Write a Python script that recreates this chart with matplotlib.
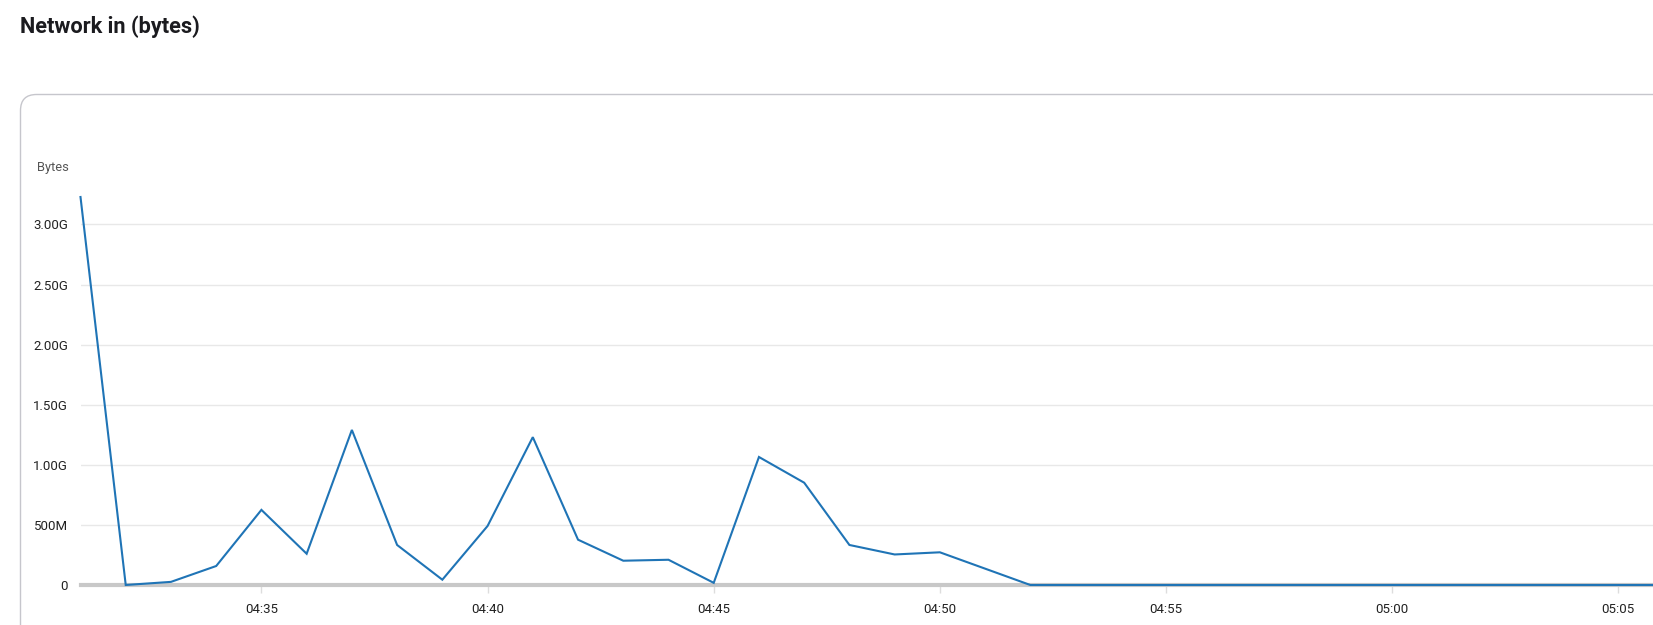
import matplotlib
matplotlib.use("Agg")
import matplotlib.pyplot as plt
import matplotlib.dates as mdates
import matplotlib.transforms as mtransforms
from matplotlib.patches import FancyBboxPatch
from matplotlib.ticker import FuncFormatter, MultipleLocator
import pandas as pd

plt.rcParams['font.family'] = ['Roboto', 'DejaVu Sans']

# ---- data ----
times = ["04:31", "04:32", "04:33", "04:34", "04:35", "04:36", "04:37", "04:38",
         "04:39", "04:40", "04:41", "04:42", "04:43", "04:44", "04:45", "04:46",
         "04:47", "04:48", "04:49", "04:50", "04:52", "04:53", "04:54", "04:55",
         "04:56", "04:57", "04:58", "04:59", "05:00", "05:01", "05:02", "05:03",
         "05:04", "05:05", "05:06"]
bytes_in = [3.228e9, 0.0, 0.026e9, 0.158e9, 0.625e9, 0.260e9, 1.29e9, 0.333e9,
            0.044e9, 0.491e9, 1.23e9, 0.377e9, 0.202e9, 0.210e9, 0.018e9, 1.065e9,
            0.851e9, 0.333e9, 0.254e9, 0.272e9, 0.0, 0.0, 0.0, 0.0,
            0.0, 0.0, 0.0, 0.0, 0.0, 0.0, 0.0, 0.0,
            0.0, 0.0, 0.0]
title = "Network in (bytes)"
y_unit = "Bytes"
x_start, x_end = "04:31", "05:05:46"

t = pd.to_datetime(["2024-01-01 " + s for s in times])
W, H = 1653, 625
fig = plt.figure(figsize=(W / 100, H / 100), dpi=100)

# card outline
card = FancyBboxPatch((20.5, -60), 1700, 625 - 94 + 60 - 0.5,
                      boxstyle="round,pad=0,rounding_size=16",
                      transform=mtransforms.IdentityTransform(),
                      fill=False, ec="#c6c6cc", lw=1.0)
fig.add_artist(card)

fig.text(20 / W, 1 - 27 / H, title, fontsize=15.7, fontweight="bold",
         color="#1b1b1f", ha="left", va="center")
fig.text(37 / W, 1 - 168 / H, y_unit, fontsize=9.3, color="#555555",
         ha="left", va="center")

ax_left = 80.5 / W
ax_bottom = (H - 585) / H
ymax = 3.4e9
ax_h = (ymax / 0.5e9 * 60.1) / H
ax = fig.add_axes([ax_left, ax_bottom, 1 - ax_left, ax_h])

ax.plot(t, bytes_in, color="#1f74b6", lw=1.5, clip_on=False, zorder=3,
        solid_joinstyle="miter")

ax.set_xlim(pd.Timestamp("2024-01-01 " + x_start), pd.Timestamp("2024-01-01 " + x_end))
ax.set_ylim(0, ymax)

for s in ["top", "right", "left"]:
    ax.spines[s].set_visible(False)
ax.spines["bottom"].set_color("#c8c8c8")
ax.spines["bottom"].set_linewidth(3)
ax.spines["bottom"].set_zorder(2)

ax.yaxis.set_major_locator(MultipleLocator(0.5e9))

def yfmt(v, pos):
    if v == 0:
        return "0"
    if v < 1e9:
        return f"{v / 1e6:.0f}M"
    return f"{v / 1e9:.2f}G"

ax.yaxis.set_major_formatter(FuncFormatter(yfmt))
ax.grid(axis="y", color="#e8e8e8", lw=1)
ax.set_axisbelow(True)
ax.tick_params(axis="y", length=0, pad=9, labelsize=9.5, labelcolor="#222222")

ax.xaxis.set_major_locator(mdates.MinuteLocator(byminute=range(0, 60, 5)))
ax.xaxis.set_major_formatter(mdates.DateFormatter("%H:%M"))
ax.tick_params(axis="x", length=6, width=1, color="#dddddd", pad=7,
               labelsize=9.5, labelcolor="#222222")

fig.savefig("out.png", dpi=100)
